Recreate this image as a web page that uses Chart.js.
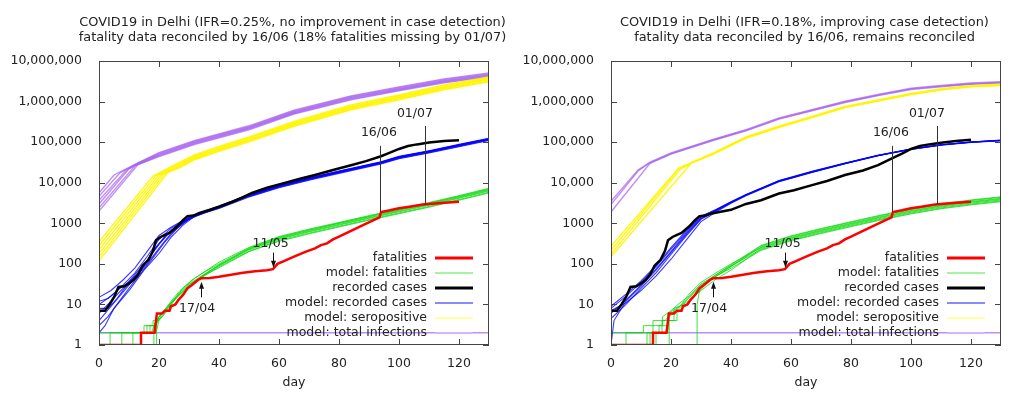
<!DOCTYPE html>
<html>
<head>
<meta charset="utf-8">
<script src="https://cdn.jsdelivr.net/npm/chart.js@4.4.0/dist/chart.umd.min.js"></script>
<style>
  html, body { margin: 0; padding: 0; background: #fff; }
  #wrap { display: flex; width: 1024px; height: 394px; }
  canvas { display: block; }
</style>
</head>
<body>
<div id="wrap">
  <canvas id="leftChart" width="512" height="394"></canvas>
  <canvas id="rightChart" width="512" height="394"></canvas>
</div>
<script>
// axes
const xTickValues = [0, 20, 40, 60, 80, 100, 120];
const yTickValues = [1, 10, 100, 1000, 10000, 100000, 1000000, 10000000];
const yTickLabels = ['1', '10', '100', '1000', '10,000', '100,000', '1,000,000', '10,000,000'];

const legendLabels = ['fatalities', 'model: fatalities', 'recorded cases', 'model: recorded cases', 'model: seropositive', 'model: total infections'];

const leftTitle = ['COVID19 in Delhi (IFR=0.25%, no improvement in case detection)',
                   'fatality data reconciled by 16/06 (18% fatalities missing by 01/07)'];
const rightTitle = ['COVID19 in Delhi (IFR=0.18%, improving case detection)',
                    'fatality data reconciled by 16/06, remains reconciled'];

// [day, value]
const fatalities = [[0,1],[14,1],[14,2],[18.5,2],[19.3,6],[21,6],[22,7],[23.5,7],[24,9],[25.5,10],[26.5,13],[28,17],[29.5,25],[31,30],[33,40],[34,44],[37,45],[40,48],[44,54],[48,60],[52,66],[56,70],[58,74],[59.5,100],[62,120],[65,150],[69,200],[72,240],[74,290],[76,320],[78,400],[80,470],[84,650],[88,900],[91,1150],[93.5,1400],[94,1900],[97,2100],[100,2350],[104,2600],[108,2900],[114,3150],[120,3400]];

const leftCases = [[0,7],[2,7],[3.5,10],[5,15],[6.5,27],[8.5,28],[10,33],[11.5,40],[13,54],[14.5,90],[16.5,125],[18,210],[19,380],[20.5,460],[22,520],[23.5,580],[26,830],[28,1200],[29.5,1500],[31.5,1550],[33.5,1800],[37,2150],[40,2550],[44.5,3400],[48,4400],[51,5600],[56,7500],[61,9500],[67,12500],[72,15500],[78,20500],[84,27000],[89,34000],[94,45000],[97,55000],[100,68000],[103,80000],[106,88000],[110,98000],[115,106000],[120,112000]];

const rightCases = [[0,7],[2,7],[3.5,10],[5,15],[6.5,27],[8.5,28],[10,33],[11.5,40],[13,54],[14.5,90],[16.5,125],[18,210],[19,380],[20.5,460],[22,520],[23.5,580],[26,830],[28,1200],[29.5,1500],[31.5,1550],[33.5,1750],[37,1950],[40,2150],[45,3000],[50,3700],[56,5400],[61,6500],[67,8700],[72,11000],[78,15500],[84,20000],[89,27000],[94,41000],[97,52000],[100,68000],[103,80000],[106,88000],[110,97000],[115,106000],[120,115000]];

const leftInfections = [
  [[0,5600],[5,15500],[13,31000],[20,55000],[32,110000],[50,253000],[65,616000],[84,1375000],[100,2310000],[115,3630000],[130,5060000]],
  [[0,4600],[7,17500],[13,30500],[20,52500],[32,105000],[50,241500],[65,588000],[84,1312000],[100,2205000],[115,3465000],[130,4830000]],
  [[0,3700],[9,20000],[13,30000],[20,50000],[32,100000],[50,230000],[65,560000],[84,1250000],[100,2100000],[115,3300000],[130,4600000]],
  [[0,3000],[10,22000],[13,29000],[20,48000],[32,96000],[50,221000],[65,538000],[84,1200000],[100,2016000],[115,3168000],[130,4416000]],
  [[0,2400],[12,26000],[14,30000],[20,46000],[32,92000],[50,211600],[65,515000],[84,1150000],[100,1932000],[115,3036000],[130,4232000]],
  [[0,2000],[13,28000],[20,44000],[32,88000],[50,202400],[65,493000],[84,1100000],[100,1848000],[115,2904000],[130,4048000]],
  [[0,2],[130,2]]
];

const leftSero = [
  [[0,350],[18,14500],[25,27000],[32,49300],[40,78400],[50,134400],[65,324800],[84,828800],[100,1456000],[115,2576000],[130,4032000]],
  [[0,280],[19,15000],[25,25500],[32,46600],[40,74200],[50,127200],[65,307400],[84,784400],[100,1378000],[115,2438000],[130,3816000]],
  [[0,225],[20,15500],[25,24000],[32,44000],[40,70000],[50,120000],[65,290000],[84,740000],[100,1300000],[115,2300000],[130,3600000]],
  [[0,180],[21,16000],[26,24000],[32,41800],[40,66500],[50,114000],[65,275500],[84,703000],[100,1235000],[115,2185000],[130,3420000]],
  [[0,145],[22,17000],[26,23000],[32,39600],[40,63000],[50,108000],[65,261000],[84,666000],[100,1170000],[115,2070000],[130,3240000]],
  [[0,118],[23,18000],[27,23500],[32,37400],[40,59500],[50,102000],[65,246500],[84,629000],[100,1105000],[115,1955000],[130,3060000]]
];

const leftCasesModel = [
  [[0,15],[4,22],[8,40],[12,80],[16,200],[20,500],[24,800],[28,1170],[32,1640],[40,2650],[50,5090],[60,8590],[70,13140],[80,19400],[94,32860],[100,44520],[110,61480],[120,88000],[130,125000]],
  [[0,10],[4,16],[8,30],[12,60],[16,150],[20,400],[24,750],[28,1100],[32,1550],[40,2500],[50,4800],[60,8100],[70,12400],[80,18300],[94,31000],[100,42000],[110,58000],[120,83000],[130,118000]],
  [[0,6],[4,12],[8,25],[12,55],[16,120],[20,300],[24,650],[28,1050],[32,1490],[40,2400],[50,4610],[60,7780],[70,11900],[80,17570],[94,29760],[100,40320],[110,55680],[120,79680],[130,113300]],
  [[0,4],[4,9],[8,20],[12,45],[16,100],[20,240],[24,560],[28,1000],[32,1600],[40,2575],[50,4940],[60,8340],[70,12770],[80,18850],[94,31930],[100,43260],[110,59740],[120,85490],[130,121500]],
  [[0,3],[3,5],[6,10],[10,25],[14,60],[18,140],[22,350],[26,750],[30,1250],[35,1800],[40,2325],[50,4460],[60,7530],[70,11530],[80,17020],[94,28830],[100,39060],[110,53940],[120,77190],[130,109700]],
  [[0,2],[2,3],[5,8],[10,22],[15,70],[20,180],[24,450],[28,900],[32,1500],[40,2450],[50,4700],[60,7940],[70,12150],[80,17930],[94,30380],[100,41160],[110,56840],[120,81340],[130,115600]],
  [[0,8],[3,8],[6,14],[10,35],[14,70],[18,200],[22,480],[26,900],[30,1350],[36,2050],[40,2600],[50,4990],[60,8420],[70,12900],[80,19030],[94,32240],[100,43680],[110,60320],[120,86320],[130,122700]],
  [[0,12],[3,14],[7,25],[11,40],[15,90],[19,260],[23,560],[27,950],[31,1450],[40,2525],[50,4850],[60,8180],[70,12520],[80,18480],[94,31310],[100,42420],[110,58580],[120,83830],[130,119200]]
];

const leftFatalModel = [
  [[0,2],[16,2],[16,3],[18,3],[18,4],[20,4],[21,6],[24,11],[27,20],[30,32],[35,55],[40,95],[50,235],[60,440],[70,670],[80,990],[90,1450],[100,2100],[110,3050],[120,4500],[130,6800]],
  [[0,1],[3.7,1],[3.7,2],[17,2],[17,3],[19,3],[20,5],[22,7],[25,13],[28,25],[32,45],[36,70],[40,110],[50,255],[60,470],[70,720],[80,1050],[90,1550],[100,2250],[110,3250],[120,4800],[130,7300]],
  [[0,1],[7.6,1],[7.6,2],[15,2],[15,3],[19,3],[20,5],[23,8],[26,15],[30,28],[35,50],[40,85],[50,205],[60,380],[70,575],[80,845],[90,1240],[100,1800],[110,2600],[120,3850],[130,5850]],
  [[0,1],[11.3,1],[11.3,2],[17.5,2],[19,4],[21,6],[24,12],[27,22],[31,40],[35,62],[40,100],[50,245],[60,455],[70,690],[80,1015],[90,1490],[100,2160],[110,3130],[120,4650],[130,7000]],
  [[0,1],[14,1],[14,2],[19,2],[20,4],[22,6],[25,10],[28,19],[32,36],[36,58],[40,90],[50,220],[60,405],[70,615],[80,900],[90,1325],[100,1920],[110,2780],[120,4130],[130,6250]],
  [[18.3,0.5],[18.3,3],[20,5],[23,9],[26,16],[30,30],[35,54],[40,92],[50,230],[60,420],[70,640],[80,940],[90,1380],[100,2000],[110,2900],[120,4300],[130,6500]],
  [[19.2,0.5],[19.2,4],[21,5],[24,10],[27,18],[31,34],[35,52],[40,80],[50,200],[60,360],[70,550],[80,810],[90,1190],[100,1720],[110,2490],[120,3700],[130,5600]]
];

const rightInfections = [
  [[0,3500],[9,20500],[13,32000],[20,54000],[34,117500],[45,204000],[56,395000],[65,582000],[78,1019000],[89,1498000],[100,2132000],[110,2496000],[120,2860000],[130,3068000]],
  [[0,2900],[9,19500],[13,31000],[20,52000],[34,113000],[45,196000],[56,380000],[65,560000],[78,980000],[89,1440000],[100,2050000],[110,2400000],[120,2750000],[130,2950000]],
  [[0,1900],[13,30000],[20,50500],[34,109600],[45,190000],[56,368600],[65,543200],[78,950600],[89,1397000],[100,1989000],[110,2328000],[120,2668000],[130,2862000]],
  [[0,2],[130,2]]
];

const rightSero = [
  [[0,270],[22.6,23000],[34,53600],[45,134000],[56,247000],[67,432600],[78,762000],[89,1102000],[100,1597000],[111,2112000],[120,2472000],[130,2678000]],
  [[0,215],[22.6,22000],[34,52000],[45,130000],[56,240000],[67,420000],[78,740000],[89,1070000],[100,1550000],[111,2050000],[120,2400000],[130,2600000]],
  [[0,175],[23,21000],[27,31000],[34,51000],[45,127400],[56,235200],[67,411600],[78,725200],[89,1049000],[100,1519000],[111,2009000],[120,2352000],[130,2548000]],
  [[0,150],[27,32000],[34,49900],[45,124800],[56,230400],[67,403200],[78,710400],[89,1027000],[100,1488000],[111,1968000],[120,2304000],[130,2496000]]
];

const rightCasesModel = [
  [[0,9],[5,18],[10,38],[15,90],[20,250],[25,650],[30,1500],[35,2200],[40,3400],[45,5100],[56,11300],[67,19000],[78,30500],[89,47500],[100,68000],[110,86000],[120,100000],[130,110000]],
  [[0,6],[5,13],[10,30],[15,75],[20,200],[25,560],[30,1350],[35,2100],[40,3300],[45,5000],[56,11000],[67,18500],[78,30000],[89,47000],[100,67000],[110,85000],[120,99000],[130,109000]],
  [[0,4.5],[5,10],[10,25],[15,60],[20,170],[25,480],[30,1250],[35,2000],[40,3200],[45,4900],[56,10800],[67,18200],[78,29500],[89,46500],[100,66500],[110,84500],[120,98500],[130,108000]],
  [[0,1],[1,4],[5,12],[10,28],[15,70],[20,190],[25,520],[30,1300],[35,2050],[40,3250],[45,4950],[56,10900],[67,18400],[78,29800],[89,46800],[100,67500],[110,86000],[120,101000],[130,112000]],
  [[0,7],[5,11],[10,22],[15,50],[20,130],[25,380],[30,1100],[35,1900],[40,3100],[45,4800],[56,10600],[67,18000],[78,29200],[89,46000],[100,66000],[110,85000],[120,100000],[130,111000]],
  [[0,8],[5,16],[10,35],[15,85],[20,230],[25,600],[30,1450],[35,2150],[40,3350],[45,5050],[56,11200],[67,18800],[78,30200],[89,47200],[100,67800],[110,86500],[120,100500],[130,110500]]
];

const rightFatalModel = [
  [[0,2],[10.8,2],[10.8,3],[14,3],[14,4],[18,4],[20,6],[23,9],[26,15],[30,30],[35,50],[40,88],[50,275],[60,473],[70,715],[80,1056],[90,1540],[100,2178],[110,2915],[120,3630],[130,4345]],
  [[0,1],[5,1],[5,2],[14,2],[14,3],[17.2,3],[17.2,5],[20,7],[23,11],[26,16],[30,32],[35,54],[40,95],[50,285],[60,490],[70,741],[80,1094],[90,1596],[100,2257],[110,3021],[120,3762],[130,4503]],
  [[0,1],[12,1],[12,2],[17,2],[17,4],[21,4],[21,8],[24,10],[27,14],[30,22],[35,42],[40,70],[50,238],[60,409],[70,618],[80,912],[90,1330],[100,1881],[110,2518],[120,3135],[130,3753]],
  [[0,1],[15,1],[15,2],[19,2],[19,4],[22,4],[22,6],[25,10],[28,16],[32,34],[36,55],[40,85],[50,260],[60,447],[70,676],[80,998],[90,1456],[100,2059],[110,2756],[120,3432],[130,4108]],
  [[19.4,0.5],[19.4,5],[22,7],[25,12],[28,20],[32,38],[36,60],[40,90],[50,225],[60,387],[70,585],[80,864],[90,1260],[100,1782],[110,2385],[120,2970],[130,3555]],
  [[28.7,0.5],[28.7,10],[29.5,22],[31,33],[35,50],[40,78],[50,215],[60,370],[70,559],[80,826],[90,1204],[100,1703],[110,2279],[120,2838],[130,3397]],
  [[0,1],[13,1],[13,2],[16,2],[16,3],[19,3],[19,6],[23,9],[26,18],[30,35],[35,60],[40,100],[50,250],[60,430],[70,650],[80,960],[90,1400],[100,1980],[110,2650],[120,3300],[130,3950]]
];

// date marks, in data units
const arrowNotes = [
  { label: '17/04', day: 34, from: 15, to: 36, labelDay: 32.7, labelAt: 7.8 },
  { label: '11/05', day: 58, from: 190, to: 80, labelDay: 57.2, labelAt: 310 }
];
const dateLines = [
  { label: '16/06', day: 93.8, top: 81000, bottom: 1900, labelDay: 93.3, labelAt: 166000 },
  { label: '01/07', day: 108.8, top: 250000, bottom: 2850, labelDay: 105.3, labelAt: 515000 }
];

const FONT = '"DejaVu Sans", Verdana, sans-serif';
const TEXT = '#222';

const styles = {
  fatalities: { color: '#ff0000', width: 2.5, key: '#ff0000', keyWidth: 3 },
  fatalModel: { color: 'rgba(0, 215, 0, 0.75)', width: 1, key: '#86f086', keyWidth: 1.5 },
  cases: { color: '#000000', width: 2.5, key: '#000000', keyWidth: 3 },
  casesModel: { color: 'rgba(0, 0, 255, 0.78)', width: 1.1, key: '#8a8aff', keyWidth: 2 },
  sero: { color: 'rgba(255, 245, 0, 0.9)', width: 1.4, key: '#ffff88', keyWidth: 1.5 },
  infections: { color: 'rgba(165, 95, 240, 0.7)', width: 1.4, key: '#d4b6fa', keyWidth: 2 }
};
const legendOrder = ['fatalities', 'fatalModel', 'cases', 'casesModel', 'sero', 'infections'];

function lineSet(pairs, style) {
    return {
        data: pairs.map(p => ({ x: p[0], y: p[1] })),
        borderColor: style.color,
        borderWidth: style.width,
        pointRadius: 0,
        pointHoverRadius: 0,
        tension: 0,
        fill: false
    };
}

const framePlugin = {
    id: 'frame',
    afterDatasetsDraw(chart) {
        const { ctx, chartArea: a } = chart;
        const x = chart.scales.x;
        const y = chart.scales.y;
        ctx.save();

        // two-line heading, centred on the plot box (may run past it)
        ctx.fillStyle = TEXT;
        ctx.font = '12.9px ' + FONT;
        ctx.textAlign = 'center';
        ctx.textBaseline = 'middle';
        const midX = (a.left + a.right) / 2 - 1.5;
        chart.options.titleLines.forEach((t, i) => ctx.fillText(t, midX, 23 + i * 15));

        // date marks
        ctx.strokeStyle = '#333';
        ctx.lineWidth = 1;
        ctx.font = '12.5px ' + FONT;
        dateLines.forEach(n => {
            const px = Math.round(x.getPixelForValue(n.day)) + 0.5;
            ctx.beginPath();
            ctx.moveTo(px, y.getPixelForValue(n.top));
            ctx.lineTo(px, y.getPixelForValue(n.bottom));
            ctx.stroke();
            ctx.fillStyle = TEXT;
            ctx.fillText(n.label, x.getPixelForValue(n.labelDay), y.getPixelForValue(n.labelAt));
        });
        arrowNotes.forEach(n => {
            const px = Math.round(x.getPixelForValue(n.day)) + 0.5;
            const y0 = y.getPixelForValue(n.from);
            const y1 = y.getPixelForValue(n.to);
            const dir = y1 > y0 ? 1 : -1;
            ctx.strokeStyle = '#111';
            ctx.beginPath();
            ctx.moveTo(px, y0);
            ctx.lineTo(px, y1 - dir * 4);
            ctx.stroke();
            ctx.fillStyle = '#111';
            ctx.beginPath();
            ctx.moveTo(px, y1);
            ctx.lineTo(px - 2.5, y1 - dir * 7);
            ctx.lineTo(px + 2.5, y1 - dir * 7);
            ctx.closePath();
            ctx.fill();
            ctx.fillStyle = TEXT;
            ctx.fillText(n.label, x.getPixelForValue(n.labelDay), y.getPixelForValue(n.labelAt));
        });

        // border and inner ticks
        ctx.strokeStyle = '#444';
        ctx.lineWidth = 1;
        ctx.strokeRect(a.left + 0.5, a.top + 0.5, a.right - a.left - 1, a.bottom - a.top - 1);
        ctx.beginPath();
        xTickValues.forEach(v => {
            const px = Math.round(x.getPixelForValue(v)) + 0.5;
            ctx.moveTo(px, a.bottom);
            ctx.lineTo(px, a.bottom - 6);
            ctx.moveTo(px, a.top);
            ctx.lineTo(px, a.top + 6);
        });
        yTickValues.forEach(v => {
            const py = Math.round(y.getPixelForValue(v)) + 0.5;
            ctx.moveTo(a.left, py);
            ctx.lineTo(a.left + 6, py);
            ctx.moveTo(a.right, py);
            ctx.lineTo(a.right - 6, py);
        });
        ctx.stroke();

        // key, bottom right inside the plot
        ctx.font = '12.5px ' + FONT;
        ctx.textAlign = 'right';
        legendOrder.forEach((k, i) => {
            const rowY = a.bottom - 87 + i * 15;
            ctx.fillStyle = TEXT;
            ctx.fillText(legendLabels[i], a.right - 62, rowY);
            ctx.strokeStyle = styles[k].key;
            ctx.lineWidth = styles[k].keyWidth;
            ctx.beginPath();
            ctx.moveTo(a.right - 54, rowY);
            ctx.lineTo(a.right - 16, rowY);
            ctx.stroke();
        });
        ctx.restore();
    }
};

function makeChart(id, title, series) {
    const datasets = [];
    datasets.push(lineSet(fatalities, styles.fatalities));
    datasets.push(lineSet(series.cases, styles.cases));
    series.fatalModel.forEach(m => datasets.push(lineSet(m, styles.fatalModel)));
    series.casesModel.forEach(m => datasets.push(lineSet(m, styles.casesModel)));
    series.sero.forEach(m => datasets.push(lineSet(m, styles.sero)));
    series.infections.forEach(m => datasets.push(lineSet(m, styles.infections)));

    const tickFont = { family: FONT, size: 12.5 };

    return new Chart(document.getElementById(id), {
        type: 'line',
        data: { datasets: datasets },
        options: {
            responsive: false,
            animation: false,
            devicePixelRatio: 1,
            events: [],
            titleLines: title,
            layout: { padding: { left: 0, right: 23, top: 61, bottom: 0 } },
            plugins: {
                legend: { display: false },
                tooltip: { enabled: false },
                title: { display: false }
            },
            scales: {
                x: {
                    type: 'linear',
                    min: 0,
                    max: 130,
                    grid: { display: false },
                    border: { display: false },
                    afterBuildTicks: s => { s.ticks = xTickValues.map(v => ({ value: v })); },
                    afterFit: s => { s.height = 49; },
                    ticks: { color: TEXT, font: tickFont, padding: 3, maxRotation: 0, autoSkip: false },
                    title: { display: true, text: 'day', color: TEXT, font: tickFont, padding: { top: 0, bottom: 3.5 } }
                },
                y: {
                    type: 'logarithmic',
                    min: 1,
                    max: 10000000,
                    grid: { display: false },
                    border: { display: false },
                    afterBuildTicks: s => { s.ticks = yTickValues.map(v => ({ value: v })); },
                    afterFit: s => { s.width = 99; },
                    ticks: {
                        color: TEXT,
                        font: tickFont,
                        padding: 9,
                        autoSkip: false,
                        callback: v => yTickLabels[yTickValues.indexOf(v)]
                    }
                }
            }
        },
        plugins: [framePlugin]
    });
}

makeChart('leftChart', leftTitle, {
    cases: leftCases, fatalModel: leftFatalModel, casesModel: leftCasesModel,
    sero: leftSero, infections: leftInfections
});
makeChart('rightChart', rightTitle, {
    cases: rightCases, fatalModel: rightFatalModel, casesModel: rightCasesModel,
    sero: rightSero, infections: rightInfections
});
</script>
</body>
</html>
